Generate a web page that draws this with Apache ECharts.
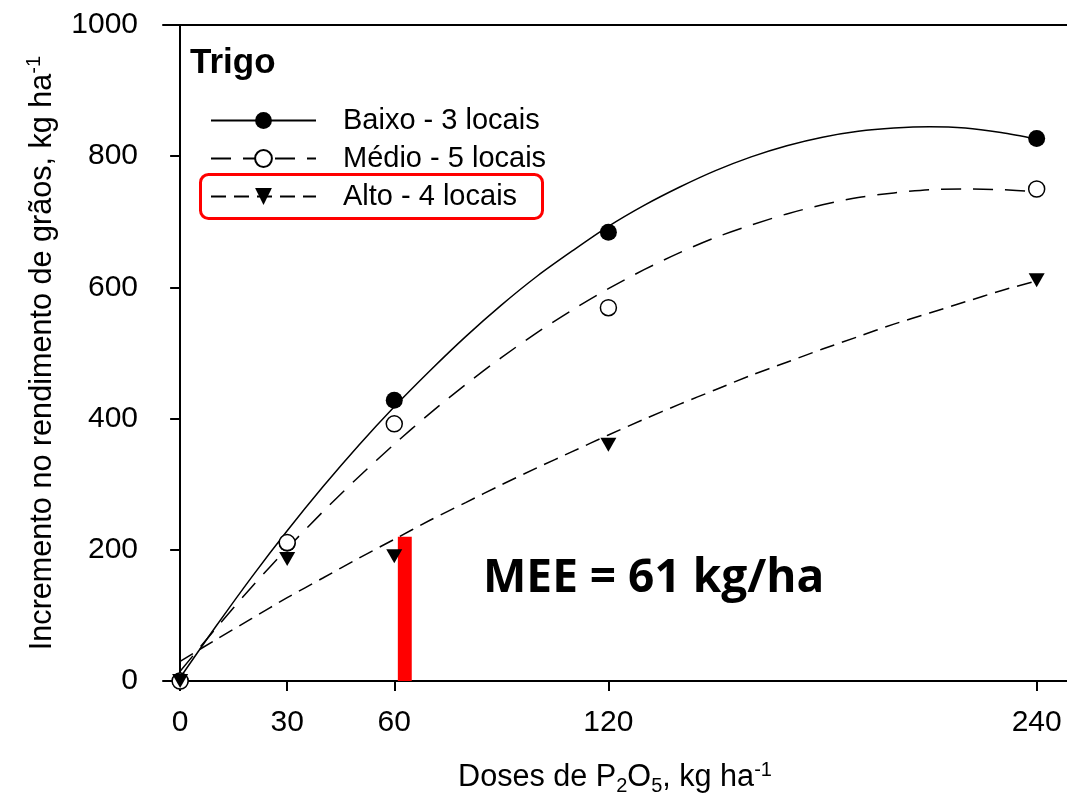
<!DOCTYPE html>
<html>
<head>
<meta charset="utf-8">
<script src="https://cdn.jsdelivr.net/npm/echarts@6/dist/echarts.min.js"></script>
<style>html,body{margin:0;padding:0;background:#fff;}#c{width:1067px;height:805px;}</style>
</head>
<body>
<div id="c"></div>
<script>
// ---- data ----
const doses = [0, 30, 60, 120, 240];
const baixoObs = [0, 210, 428, 684, 827];
const medioObs = [0, 211, 392, 569, 750];
const altoObs = [0, 186, 190, 360, 611];
// fitted curves
const curveX = [0, 10, 20, 30, 40, 50, 60, 70, 80, 90, 100, 110, 120, 130, 140, 150, 160, 170, 180, 190, 200, 210, 220, 230, 240];
const baixoFit = [5, 83, 158, 229, 296, 359, 418, 473, 525, 573, 617, 656, 693, 725, 753, 778, 799, 816, 829, 838, 843, 845, 843, 836, 826];
const medioFit = [15, 80, 143, 202, 258, 311, 361, 408, 452, 493, 531, 566, 598, 627, 653, 676, 695, 712, 726, 737, 744, 749, 750, 749, 746];
const altoFit = [30, 63, 95, 127, 157, 187, 216, 245, 272, 299, 325, 350, 375, 399, 422, 444, 466, 486, 506, 525, 544, 561, 578, 595, 610];
const xTicks = [0, 30, 60, 120, 240];
const seriesNames = ['Baixo - 3 locais', 'Médio - 5 locais', 'Alto - 4 locais'];
const meeValue = 61;
const meeBarTop = 220;
const meeLabel = 'MEE = 61 kg/ha';
const cropLabel = 'Trigo';

const pair = (xs, ys) => xs.map((x, i) => [x, ys[i]]);
const triDown = 'path://M0,0 L20,0 L10,18 Z';
const FONT = 'Liberation Sans, Arial, sans-serif';

const chart = echarts.init(document.getElementById('c'), null, {renderer: 'canvas'});
const axisLineStyle = {color: '#000', width: 2};

const option = {
  animation: false,
  backgroundColor: '#fff',
  textStyle: {fontFamily: FONT},
  grid: {left: 163, right: 0, top: 25, bottom: 124, containLabel: false},
  legend: {
    left: 210, top: 106, orient: 'vertical', padding: 0,
    itemWidth: 105, itemHeight: 21, itemGap: 9,
    selectedMode: false,
    data: seriesNames,
    textStyle: {fontFamily: FONT, fontSize: 29, color: '#000', padding: [0, 0, 0, 22]}
  },
  xAxis: [{
    type: 'value', min: -4.8, max: 248.5, position: 'bottom',
    axisLine: {show: true, onZero: false, lineStyle: axisLineStyle},
    axisTick: {show: true, length: 10, inside: false, customValues: xTicks, lineStyle: axisLineStyle},
    axisLabel: {customValues: xTicks, fontSize: 30, color: '#000', margin: 27, fontFamily: FONT},
    splitLine: {show: false},
    name: 'Doses de P{sub|2}O{sub|5}, kg ha{sup|-1}',
    nameLocation: 'middle', nameGap: 79,
    nameTextStyle: {
      fontSize: 30.6, color: '#000', fontFamily: FONT, lineHeight: 36,
      rich: {
        sub: {fontSize: 20, lineHeight: 14, verticalAlign: 'bottom', fontFamily: FONT, color: '#000'},
        sup: {fontSize: 20, lineHeight: 16, verticalAlign: 'top', fontFamily: FONT, color: '#000'}
      }
    }
  }, {
    type: 'value', min: -4.8, max: 248.5, position: 'top',
    axisLine: {show: true, onZero: false, lineStyle: axisLineStyle},
    axisTick: {show: false}, axisLabel: {show: false}, splitLine: {show: false}
  }],
  yAxis: {
    type: 'value', min: 0, max: 1000, interval: 200,
    axisLine: {show: true, lineStyle: axisLineStyle},
    axisTick: {show: true, length: 10, inside: false, lineStyle: axisLineStyle},
    axisLabel: {fontSize: 30, color: '#000', margin: 25, fontFamily: FONT, formatter: v => String(v)},
    splitLine: {show: false},
    name: 'Incremento no rendimento de grãos, kg ha{sup|-1}',
    nameLocation: 'middle', nameGap: 101,
    nameTextStyle: {
      fontSize: 30.6, color: '#000', fontFamily: FONT, lineHeight: 36,
      rich: {
        sup: {fontSize: 20, lineHeight: 16, verticalAlign: 'top', fontFamily: FONT, color: '#000'}
      }
    }
  },
  series: [
    {
      name: seriesNames[0], type: 'line', data: pair(curveX, baixoFit), smooth: 0.3,
      symbol: 'circle', showSymbol: false, z: 2,
      lineStyle: {color: '#000', width: 1.5, type: 'solid'}, itemStyle: {color: '#000'},
      markArea: {
        silent: true,
        itemStyle: {color: '#ff0000', opacity: 1},
        data: [[{coord: [meeValue, 0]}, {coord: [meeValue + 3.9, meeBarTop]}]]
      }
    },
    {
      name: seriesNames[1], type: 'line', data: pair(curveX, medioFit), smooth: 0.3,
      symbol: 'emptyCircle', showSymbol: false, z: 2,
      lineStyle: {color: '#000', width: 1.5, type: [20, 12]}, itemStyle: {color: '#000'}
    },
    {
      name: seriesNames[2], type: 'line', data: pair(curveX, altoFit), smooth: 0.3,
      symbol: triDown, showSymbol: false, z: 2,
      lineStyle: {color: '#000', width: 1.5, type: [15, 8]}, itemStyle: {color: '#000'}
    },
    {
      name: seriesNames[0] + ' obs', type: 'scatter', data: pair(doses, baixoObs), z: 3,
      symbol: 'circle', symbolSize: 17, itemStyle: {color: '#000', opacity: 1}
    },
    {
      name: seriesNames[1] + ' obs', type: 'scatter', data: pair(doses, medioObs), z: 3,
      symbol: 'circle', symbolSize: 16, itemStyle: {color: '#fff', borderColor: '#000', borderWidth: 1.5, opacity: 1}
    },
    {
      name: seriesNames[2] + ' obs', type: 'scatter', data: pair(doses, altoObs), z: 3,
      symbol: triDown, symbolSize: [16, 14], itemStyle: {color: '#000', opacity: 1}
    }
  ],
  graphic: [
    {type: 'text', left: 190, top: 46, z: 10,
     style: {text: cropLabel, fontFamily: FONT, fontWeight: 'bold', fontSize: 35, fill: '#000'}},
    {type: 'text', left: 483, top: 556, z: 10,
     style: {text: meeLabel, fontFamily: 'Open Sans, sans-serif', fontWeight: 'bold', fontSize: 46, fill: '#000'}},
    {type: 'rect', left: 198, top: 172, z: 10,
     shape: {width: 342, height: 44, r: 8},
     style: {fill: 'none', stroke: '#ff0000', lineWidth: 3}}
  ]
};
chart.setOption(option);
</script>
</body>
</html>
